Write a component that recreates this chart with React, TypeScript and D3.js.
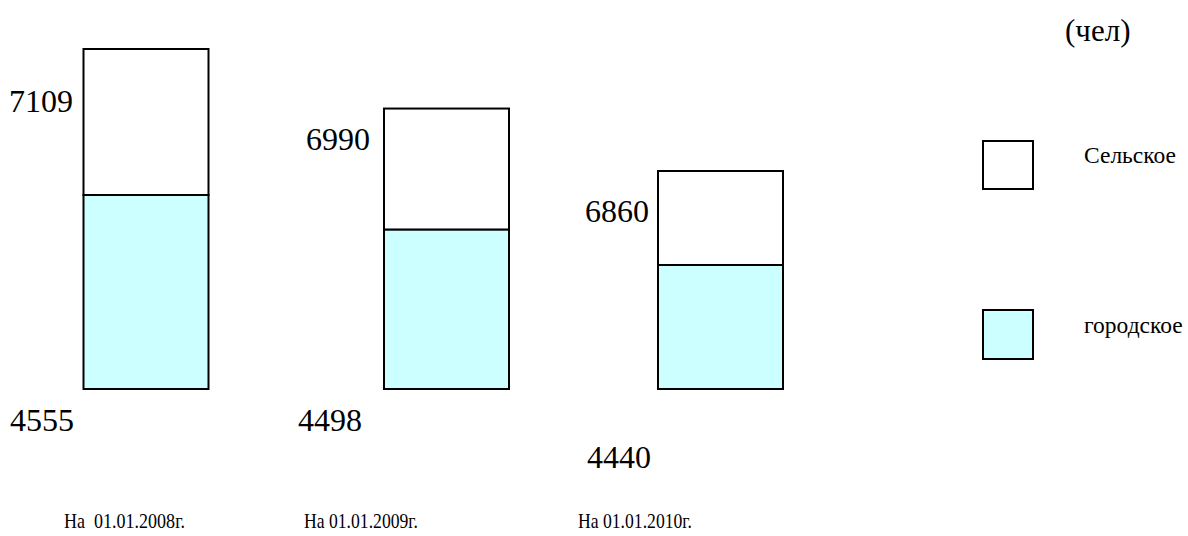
import React from 'react';
import * as d3 from 'd3';

// ---------- data ----------
const categories = ['На  01.01.2008г.', 'На 01.01.2009г.', 'На 01.01.2010г.'];
const urbanValues = [4555, 4498, 4440];
const ruralValues = [7109, 6990, 6860];
const seriesNames = ['Сельское', 'городское'];
const unitLabel = '(чел)';

// ---------- layout ----------
const W = 1188;
const H = 536;
const baseY = 389;
const barWidth = 125;
const barLefts = [83.5, 384, 658];
const ruralLabelPos = [[73, 112], [370, 150], [649, 222]];
const urbanLabelPos = [[10, 431], [298, 431], [587, 468]];
const categoryLabelPos = [[64, 528], [304, 528], [578, 528]];
const FILL_URBAN = '#CCFFFF';
const FILL_RURAL = '#FFFFFF';
const FONT = '"Times New Roman", "Liberation Serif", serif';

const x = d3.scaleOrdinal<string, number>().domain(categories).range(barLefts);
const hUrban = d3.scaleLinear().domain([4440, 4555]).range([124, 194]);
const hRural = d3.scaleLinear().domain([6860, 7109]).range([94, 146]);

export default function App() {
  const bars = categories.map((c, i) => {
    const left = x(c) as number;
    const uh = hUrban(urbanValues[i]);
    const rh = hRural(ruralValues[i]);
    const div = baseY - uh;
    const top = div - rh;
    return { c, i, left, div, top, uh, rh };
  });

  const textStyle = { fontFamily: FONT };

  return (
    <svg
      width={W}
      height={H}
      style={{ position: 'absolute', left: 0, top: 0, background: '#fff' }}
    >
      <rect x={0} y={0} width={W} height={H} fill="#fff" />
      {bars.map((b) => (
        <g key={b.c}>
          <rect x={b.left} y={b.top} width={barWidth} height={b.rh} fill={FILL_RURAL} stroke="#000" strokeWidth={2} />
          <rect x={b.left} y={b.div} width={barWidth} height={b.uh} fill={FILL_URBAN} stroke="#000" strokeWidth={2} />
        </g>
      ))}
      {ruralValues.map((v, i) => (
        <text key={'r' + i} x={ruralLabelPos[i][0]} y={ruralLabelPos[i][1]} fontSize={32} textAnchor="end" fill="#000" style={textStyle}>
          {v}
        </text>
      ))}
      {urbanValues.map((v, i) => (
        <text key={'u' + i} x={urbanLabelPos[i][0]} y={urbanLabelPos[i][1]} fontSize={32} fill="#000" style={textStyle}>
          {v}
        </text>
      ))}
      {categories.map((c, i) => (
        <text
          key={'c' + i}
          x={categoryLabelPos[i][0]}
          y={categoryLabelPos[i][1]}
          fontSize={22}
          textLength={i === 0 ? 121 : 114}
          lengthAdjust="spacingAndGlyphs"
          fill="#000"
          style={{ ...textStyle, whiteSpace: 'pre' }}
        >
          {c}
        </text>
      ))}
      <text x={1065} y={41} fontSize={31} fill="#000" style={textStyle}>
        {unitLabel}
      </text>
      <rect x={983} y={141} width={50} height={48} fill={FILL_RURAL} stroke="#000" strokeWidth={2} />
      <text x={1084} y={163} fontSize={23.5} fill="#000" style={textStyle}>{seriesNames[0]}</text>
      <rect x={983} y={310} width={50} height={49} fill={FILL_URBAN} stroke="#000" strokeWidth={2} />
      <text x={1084} y={333} fontSize={23.5} fill="#000" style={textStyle}>{seriesNames[1]}</text>
    </svg>
  );
}
